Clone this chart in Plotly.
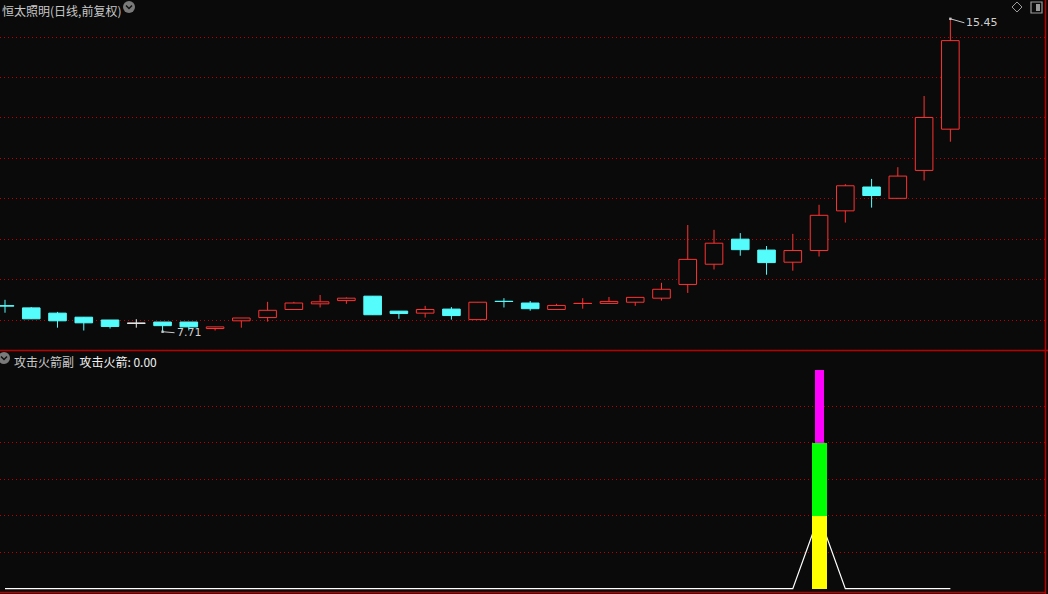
import plotly.graph_objects as go

# ---------------- data ----------------
DAYS = list(range(37))
OPEN = [8.35, 8.30, 8.17, 8.07, 8.00, 7.92, 7.95, 7.95, 7.79, 7.98,
        8.06, 8.26, 8.40, 8.48, 8.59, 8.22, 8.17, 8.27, 8.01, 8.46,
        8.42, 8.26, 8.41, 8.41, 8.44, 8.54, 8.88, 9.38, 10.00, 9.73,
        9.43, 9.72, 10.70, 11.29, 11.01, 11.70, 12.72]
HIGH = [8.50, 8.32, 8.20, 8.07, 8.00, 8.02, 7.95, 7.95, 7.83, 8.05,
        8.45, 8.45, 8.62, 8.56, 8.59, 8.22, 8.35, 8.32, 8.44, 8.54,
        8.47, 8.40, 8.54, 8.57, 8.56, 8.92, 10.35, 10.23, 10.15, 9.83,
        10.13, 10.85, 11.36, 11.49, 11.78, 13.54, 15.45]
LOW = [8.18, 8.03, 7.81, 7.74, 7.79, 7.81, 7.71, 7.74, 7.74, 7.81,
       7.96, 8.26, 8.31, 8.40, 8.13, 8.03, 8.06, 8.01, 8.01, 8.31,
       8.23, 8.26, 8.28, 8.41, 8.35, 8.48, 8.67, 9.25, 9.59, 9.12,
       9.22, 9.57, 10.41, 10.78, 11.01, 11.45, 12.41]
CLOSE = [8.35, 8.03, 7.98, 7.93, 7.84, 7.92, 7.86, 7.83, 7.83, 8.05,
         8.24, 8.42, 8.45, 8.54, 8.13, 8.16, 8.26, 8.11, 8.44, 8.46,
         8.28, 8.36, 8.41, 8.46, 8.56, 8.76, 9.50, 9.90, 9.74, 9.42,
         9.72, 10.59, 11.32, 11.08, 11.56, 13.01, 14.91]

# 攻击火箭 indicator (stacked bar segments + line)
ROCKET_BASE = [0, 0, 0, 0, 0, 0, 0, 0, 0, 0, 0, 0, 0, 0, 0, 0, 0, 0, 0, 0,
               0, 0, 0, 0, 0, 0, 0, 0, 0, 0, 0, 2, 0, 0, 0, 0, 0]
ROCKET_MID = [0, 0, 0, 0, 0, 0, 0, 0, 0, 0, 0, 0, 0, 0, 0, 0, 0, 0, 0, 0,
              0, 0, 0, 0, 0, 0, 0, 0, 0, 0, 0, 2, 0, 0, 0, 0, 0]
ROCKET_TOP = [0, 0, 0, 0, 0, 0, 0, 0, 0, 0, 0, 0, 0, 0, 0, 0, 0, 0, 0, 0,
              0, 0, 0, 0, 0, 0, 0, 0, 0, 0, 0, 2, 0, 0, 0, 0, 0]
ROCKET_LINE = [0, 0, 0, 0, 0, 0, 0, 0, 0, 0, 0, 0, 0, 0, 0, 0, 0, 0, 0, 0,
               0, 0, 0, 0, 0, 0, 0, 0, 0, 0, 0, 2, 0, 0, 0, 0, 0]

PRICE_GRID = [8, 9, 10, 11, 12, 13, 14, 15]
IND_GRID = [1, 2, 3, 4, 5]
MAX_LABEL = "15.45"
MIN_LABEL = "7.71"

# ---------------- style ----------------
BG = "#0a0a0a"
RED = "#FF3232"
CYAN = "#54FCFC"
WHITE = "#E8E8E8"
GRID = "#C00000"
FRAME = "#B80000"
DOJI_COLORS = {0: CYAN, 5: WHITE, 19: CYAN, 22: RED}
FONT = "Noto Sans CJK SC"
W, H = 1048, 594


def px_x(p):
    return p / W


def px_y(p):
    return 1 - p / H


def candle_color(i):
    if CLOSE[i] > OPEN[i]:
        return RED
    if CLOSE[i] < OPEN[i]:
        return CYAN
    return DOJI_COLORS.get(i, WHITE)


colors = [candle_color(i) for i in DAYS]
fig = go.Figure()

# wicks (base axis, drawn under bodies)
for col in [RED, CYAN, WHITE]:
    xs, ys = [], []
    for i in DAYS:
        if colors[i] == col:
            xs += [DAYS[i], DAYS[i], None]
            ys += [HIGH[i], LOW[i], None]
    if xs:
        fig.add_trace(go.Scatter(x=xs, y=ys, mode="lines", xaxis="x", yaxis="y",
                                 line=dict(color=col, width=1), hoverinfo="skip",
                                 showlegend=False))

# bodies (overlay axis, drawn on top of wicks)
body_base = [min(o, c) for o, c in zip(OPEN, CLOSE)]
body_h = [abs(c - o) for o, c in zip(OPEN, CLOSE)]
fill = [BG if colors[i] == RED else colors[i] for i in DAYS]
fig.add_trace(go.Bar(x=DAYS, y=body_h, base=body_base, xaxis="x", yaxis="y3",
                     width=0.67,
                     marker=dict(color=fill, line=dict(color=colors, width=1)),
                     showlegend=False, hoverinfo="skip"))

# doji horizontal strokes
for col in [RED, CYAN, WHITE]:
    xs, ys = [], []
    for i in DAYS:
        if OPEN[i] == CLOSE[i] and colors[i] == col:
            xs += [DAYS[i] - 0.35, DAYS[i] + 0.35, None]
            ys += [OPEN[i], OPEN[i], None]
    if xs:
        fig.add_trace(go.Scatter(x=xs, y=ys, mode="lines", xaxis="x", yaxis="y3",
                                 line=dict(color=col, width=1), hoverinfo="skip",
                                 showlegend=False))

# indicator line (base axis of lower panel)
fig.add_trace(go.Scatter(x=DAYS, y=ROCKET_LINE, mode="lines", xaxis="x2", yaxis="y2",
                         line=dict(color="#FFFFFF", width=1.2), hoverinfo="skip",
                         showlegend=False))
# stacked rocket bars (overlay axis)
mid_base = list(ROCKET_BASE)
top_base = [a + b for a, b in zip(ROCKET_BASE, ROCKET_MID)]
fig.add_trace(go.Bar(x=DAYS, y=ROCKET_BASE, base=[0] * len(DAYS), width=0.571,
                     xaxis="x2", yaxis="y4", marker=dict(color="#FFFF00", line=dict(width=0)),
                     showlegend=False, hoverinfo="skip"))
fig.add_trace(go.Bar(x=DAYS, y=ROCKET_MID, base=mid_base, width=0.571,
                     xaxis="x2", yaxis="y4", marker=dict(color="#00FF00", line=dict(width=0)),
                     showlegend=False, hoverinfo="skip"))
fig.add_trace(go.Bar(x=DAYS, y=ROCKET_TOP, base=top_base, width=0.343,
                     xaxis="x2", yaxis="y4", marker=dict(color="#FF00FF", line=dict(width=0)),
                     showlegend=False, hoverinfo="skip"))

XR = [-5 / 26.26, (1045 - 5) / 26.26]
YR_TOP = [15 - 313 / 40.43, 15 + 37 / 40.43]
YR_BOT = [-(592 - 588.7) / 36.5, (588.7 - 351) / 36.5]
TOP_DOM = [px_y(350), 1]
BOT_DOM = [px_y(592), px_y(351)]

xbase = dict(range=XR, domain=[0, px_x(1045)], showgrid=False, zeroline=False,
             showticklabels=False, showline=False, ticks="", fixedrange=True)
grid_common = dict(showgrid=True, gridcolor=GRID, gridwidth=1, griddash="1px,3px",
                   zeroline=False, showticklabels=False, showline=False, ticks="")

fig.update_layout(
    width=W, height=H,
    margin=dict(l=0, r=0, t=0, b=0),
    paper_bgcolor=BG, plot_bgcolor=BG,
    barmode="overlay", bargap=0,
    showlegend=False,
    xaxis=dict(anchor="y", **xbase),
    xaxis2=dict(anchor="y2", **xbase),
    yaxis=dict(domain=TOP_DOM, range=YR_TOP, tickvals=PRICE_GRID, anchor="x", **grid_common),
    yaxis3=dict(overlaying="y", range=YR_TOP, visible=False, anchor="x"),
    yaxis2=dict(domain=BOT_DOM, range=YR_BOT, tickvals=IND_GRID, anchor="x2", **grid_common),
    yaxis4=dict(overlaying="y2", range=YR_BOT, visible=False, anchor="x2"),
    font=dict(family=FONT, color="#C8C8C8"),
)

# frame lines
shapes = [
    dict(type="line", xref="paper", yref="paper", x0=0, x1=1, y0=px_y(350.5), y1=px_y(350.5),
         line=dict(color=FRAME, width=1.5)),
    dict(type="line", xref="paper", yref="paper", x0=px_x(1045.5), x1=px_x(1045.5), y0=0, y1=1,
         line=dict(color=FRAME, width=1.5)),
    dict(type="line", xref="paper", yref="paper", x0=0, x1=px_x(1046), y0=px_y(592.5), y1=px_y(592.5),
         line=dict(color=FRAME, width=1.5)),
    # dropdown circles
    dict(type="circle", xref="paper", yref="paper", x0=px_x(123), x1=px_x(135),
         y0=px_y(13), y1=px_y(1), fillcolor="#7a7a7a", line=dict(width=0)),
    dict(type="circle", xref="paper", yref="paper", x0=px_x(-2), x1=px_x(10),
         y0=px_y(364), y1=px_y(352), fillcolor="#7a7a7a", line=dict(width=0)),
    dict(type="path", xref="paper", yref="paper",
         path=f"M {px_x(126)} {px_y(5.5)} L {px_x(129)} {px_y(8.5)} L {px_x(132)} {px_y(5.5)}",
         line=dict(color="#111111", width=1.5)),
    dict(type="path", xref="paper", yref="paper",
         path=f"M {px_x(1)} {px_y(356.5)} L {px_x(4)} {px_y(359.5)} L {px_x(7)} {px_y(356.5)}",
         line=dict(color="#111111", width=1.5)),
    # top-right icons
    dict(type="path", xref="paper", yref="paper",
         path=f"M {px_x(1017)} {px_y(2)} L {px_x(1022)} {px_y(7)} L {px_x(1017)} {px_y(12)} "
              f"L {px_x(1012)} {px_y(7)} Z",
         line=dict(color="#9a9a9a", width=1)),
    dict(type="rect", xref="paper", yref="paper", x0=px_x(1031), x1=px_x(1042),
         y0=px_y(13), y1=px_y(2), line=dict(color="#9a9a9a", width=1.2)),
    dict(type="rect", xref="paper", yref="paper", x0=px_x(1036), x1=px_x(1040),
         y0=px_y(11), y1=px_y(4), fillcolor="#9a9a9a", line=dict(width=0)),
]
fig.update_layout(shapes=shapes)

annotations = [
    dict(xref="paper", yref="paper", x=0, y=px_y(0), xanchor="left", yanchor="top",
         text="恒太照明(日线,前复权)", showarrow=False,
         font=dict(family=FONT, size=12, color="#C8C8C8")),
    dict(xref="paper", yref="paper", x=px_x(12), y=px_y(351), xanchor="left", yanchor="top",
         text="攻击火箭副  <span style='color:#F0F0F0'>攻击火箭: 0.00</span>", showarrow=False,
         font=dict(family=FONT, size=12, color="#C8C8C8")),
    dict(xref="x", yref="y", x=DAYS[HIGH.index(max(HIGH))], y=max(HIGH), text=MAX_LABEL,
         showarrow=True, arrowhead=7, arrowsize=0.6, arrowwidth=1, arrowcolor="#C8C8C8",
         ax=14, ay=4, xanchor="left", yanchor="middle",
         font=dict(family="DejaVu Sans", size=11, color="#D0D0D0")),
    dict(xref="x", yref="y", x=DAYS[LOW.index(min(LOW))], y=min(LOW), text=MIN_LABEL,
         showarrow=True, arrowhead=7, arrowsize=0.6, arrowwidth=1, arrowcolor="#C8C8C8",
         ax=12, ay=1, xanchor="left", yanchor="middle",
         font=dict(family="DejaVu Sans", size=11, color="#D0D0D0")),
]
fig.update_layout(annotations=annotations)

fig.write_html(
    "out.html",
    config={"displayModeBar": False, "staticPlot": True},
    post_script="document.body.style.margin='0';document.body.style.background='#0a0a0a';"
                "document.body.style.overflow='hidden';",
)
